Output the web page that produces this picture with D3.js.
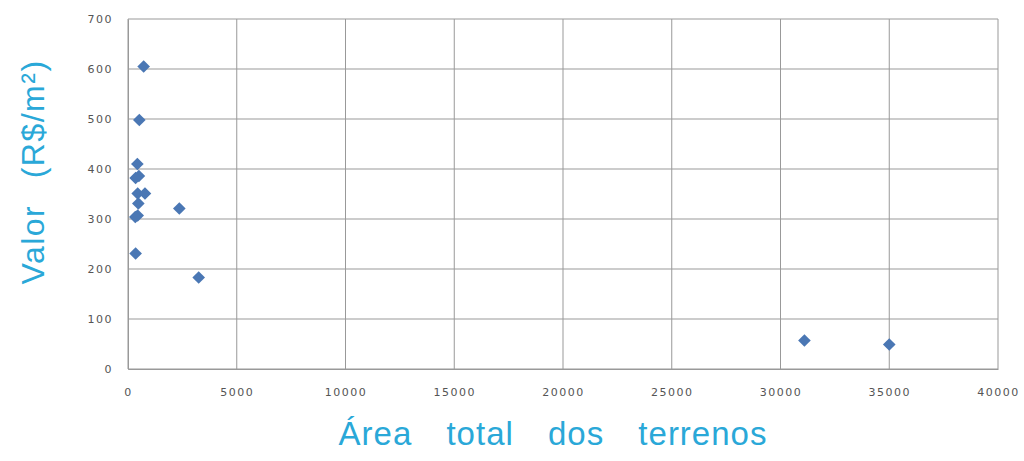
<!DOCTYPE html>
<html>
<head>
<meta charset="utf-8">
<script src="https://cdn.jsdelivr.net/npm/d3@7"></script>
<style>
  body { margin: 0; background: #fff; }
  .tick text { font-family: "DejaVu Sans", sans-serif; font-size: 11px; fill: #555; letter-spacing: 1.5px; }
  .axis-title { font-family: "Liberation Sans", Arial, sans-serif; fill: #2aa8d8; }
</style>
</head>
<body>
<svg id="chart" width="1024" height="461"></svg>
<script>
// terrain area (m2) and value (R$/m2)
const areas = [720, 520, 430, 500, 350, 445, 780, 475, 445, 335, 2360, 350, 3250, 31100, 35000];
const values = [605, 498, 410, 386, 382, 351, 351, 331, 307, 304, 321, 231, 183, 57, 49];
const xTicks = [0, 5000, 10000, 15000, 20000, 25000, 30000, 35000, 40000];
const yTicks = [0, 100, 200, 300, 400, 500, 600, 700];

const margin = { top: 19, left: 128, right: 26, bottom: 92 };
const width = 1024 - margin.left - margin.right,
  height = 461 - margin.top - margin.bottom;

const svg = d3.select("#chart");
const g = svg.append("g").attr("transform", "translate(" + margin.left + "," + margin.top + ")");

const x = d3.scaleLinear().domain([0, 40000]).range([0, width]);
const y = d3.scaleLinear().domain([0, 700]).range([height, 0]);

// grid
g.append("g")
  .selectAll("line")
  .data(xTicks)
  .enter()
  .append("line")
  .attr("x1", (d) => x(d)).attr("x2", (d) => x(d))
  .attr("y1", 0).attr("y2", height)
  .attr("stroke", "#999").attr("stroke-width", 1);
g.append("g")
  .selectAll("line")
  .data(yTicks)
  .enter()
  .append("line")
  .attr("x1", 0).attr("x2", width)
  .attr("y1", (d) => y(d)).attr("y2", (d) => y(d))
  .attr("stroke", "#999").attr("stroke-width", 1);

// axes
const xAxis = g.append("g")
  .attr("transform", "translate(0," + height + ")")
  .call(d3.axisBottom(x).tickValues(xTicks).tickSize(0).tickPadding(19).tickFormat(d3.format("d")));
xAxis.select(".domain").attr("stroke", "#999");

const yAxis = g.append("g")
  .call(d3.axisLeft(y).tickValues(yTicks).tickSize(0).tickPadding(15));
yAxis.select(".domain").attr("stroke", "#999");

// points (square rotated 45deg)
const marker = d3.symbol().type(d3.symbolSquare).size(80);
g.append("g")
  .selectAll("path")
  .data(areas.map((a, i) => [a, values[i]]))
  .enter()
  .append("path")
  .attr("d", marker)
  .attr("transform", (d) => "translate(" + x(d[0]) + "," + y(d[1]) + ") rotate(45)")
  .attr("fill", "#4a77b4");

// titles
svg.append("text")
  .attr("class", "axis-title")
  .attr("x", 553)
  .attr("y", 445)
  .attr("text-anchor", "middle")
  .style("font-size", "33px")
  .style("letter-spacing", "1px")
  .style("word-spacing", "24px")
  .text("Área total dos terrenos");

svg.append("text")
  .attr("class", "axis-title")
  .attr("transform", "translate(44,172) rotate(-90)")
  .attr("text-anchor", "middle")
  .style("font-size", "32px")
  .style("letter-spacing", "1.5px")
  .style("word-spacing", "16px")
  .text("Valor (R$/m²)");
</script>
</body>
</html>
